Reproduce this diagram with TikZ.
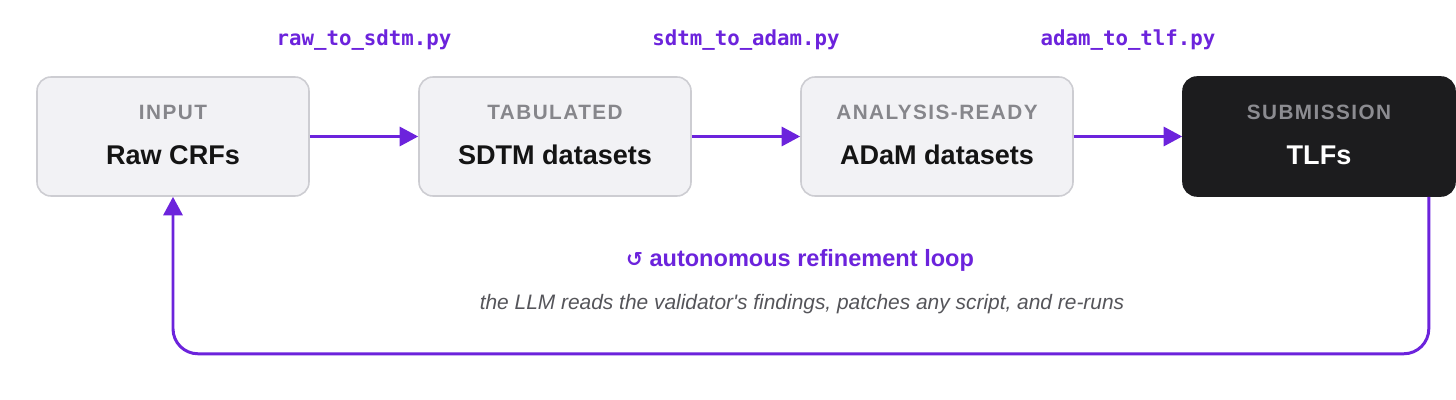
\documentclass[tikz,border=0pt]{standalone}
\usepackage{fontspec}
\usepackage{tikz}
\usepackage{xcolor}
\usetikzlibrary{arrows.meta,positioning,calc}
\setmainfont{Liberation Sans}
\newfontfamily\codefont{DejaVu Sans Mono}
\newfontfamily\tagfont[LetterSpace=7]{Liberation Sans}
\newfontfamily\symfont{DejaVu Sans}
\newfontfamily\noteplain{Liberation Sans}[Mapping=]
\definecolor{loopviolet}{RGB}{108,35,220}
\definecolor{boxgray}{RGB}{242,242,245}
\definecolor{boxline}{RGB}{205,205,210}
\definecolor{taggray}{RGB}{134,134,139}
\definecolor{darkbox}{RGB}{28,28,30}
\definecolor{notegray}{RGB}{85,85,90}

\begin{document}
\begin{tikzpicture}[
    stagebox/.style={draw=boxline,fill=boxgray,line width=0.9pt,rounded corners=0.28cm,minimum width=5.44cm,minimum height=2.38cm},
    stagetag/.style={anchor=base,text=taggray,font=\tagfont\fontsize{11.8}{14}\selectfont\bfseries},
    stagename/.style={anchor=base,text=black!92,font=\fontsize{15.4}{18}\selectfont\bfseries},
    scriptlabel/.style={anchor=base,text=loopviolet,font=\codefont\fontsize{11.8}{14}\selectfont\bfseries},
    flow/.style={draw=loopviolet,line width=1.7pt,-{Triangle[length=0.37cm,width=0.38cm]}}
]
\useasboundingbox (0,0) rectangle (29.12,-8);

% Stages
\node[stagebox] (raw) at (3.46,-2.73) {};
\node[stagebox] (sdtm) at (11.10,-2.73) {};
\node[stagebox] (adam) at (18.74,-2.73) {};
\node[stagebox,draw=darkbox,fill=darkbox] (tlf) at (26.38,-2.73) {};

% Stage texts
\node[stagetag] (rawtag) at ($(raw.center)+(0,0.33)$) {INPUT};
\node[stagename] (rawname) at ($(raw.center)+(0,-0.57)$) {Raw CRFs};
\node[stagetag] (sdtmtag) at ($(sdtm.center)+(0,0.33)$) {TABULATED};
\node[stagename] (sdtmname) at ($(sdtm.center)+(0,-0.57)$) {SDTM datasets};
\node[stagetag] (adamtag) at ($(adam.center)+(0,0.33)$) {ANALYSIS-READY};
\node[stagename] (adamname) at ($(adam.center)+(0,-0.57)$) {ADaM datasets};
\node[stagetag,text=taggray!95!white] (tlftag) at ($(tlf.center)+(0,0.33)$) {SUBMISSION};
\node[stagename,text=white] (tlfname) at ($(tlf.center)+(0,-0.57)$) {TLFs};

% Scripts
\node[scriptlabel] (s1) at (7.28,-0.92) {raw\_to\_sdtm.py};
\node[scriptlabel] (s2) at (14.92,-0.92) {sdtm\_to\_adam.py};
\node[scriptlabel] (s3) at (22.56,-0.92) {adam\_to\_tlf.py};

% Pipeline arrows
\draw[flow] (raw) -- (sdtm);
\draw[flow] (sdtm) -- (adam);
\draw[flow] (adam) -- (tlf);

% Refinement loop
\coordinate (loopstart) at ($(tlf.south east)+(-0.54,0)$);
\coordinate (loopbase) at ($(raw.south)+(0,-3.14)$);
\draw[flow,rounded corners=0.5cm] (loopstart) |- (loopbase) -- (raw.south);

\node[anchor=base,text=loopviolet,font=\fontsize{13.4}{16}\selectfont\bfseries] (looptitle) at (16.0,-5.34) {{\symfont\fontsize{11.5}{13}\selectfont\bfseries ↺} autonomous refinement loop};
\node[anchor=base,text=notegray,font=\noteplain\fontsize{11.9}{14}\selectfont\itshape] (loopnote) at (16.04,-6.2) {the LLM reads the validator's findings, patches any script, and re-runs};

\end{tikzpicture}
\end{document}
